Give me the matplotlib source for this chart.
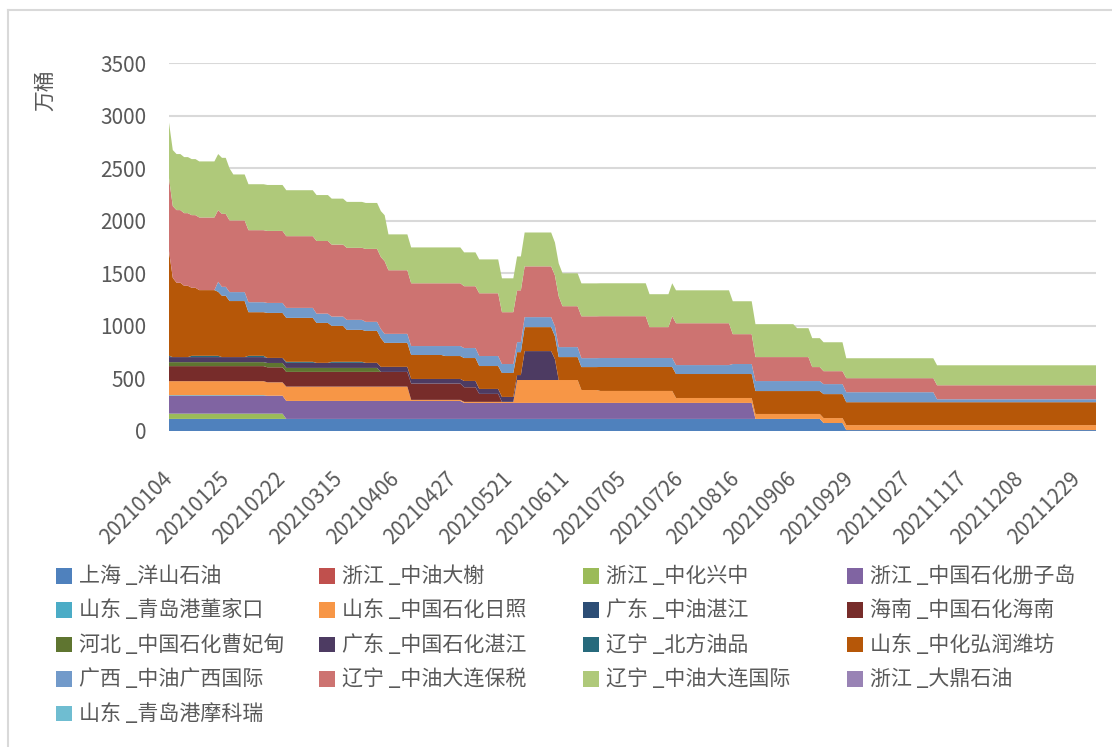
import matplotlib
matplotlib.use("Agg")
import matplotlib.pyplot as plt
import numpy as np
from matplotlib.lines import Line2D
from matplotlib.patches import Rectangle

plt.rcParams["font.family"] = ["Noto Sans CJK SC", "DejaVu Sans"]

N_DAYS = 246  # trading days on the category axis

date_labels = ["20210104", "20210125", "20210222", "20210315", "20210406", "20210427",
               "20210521", "20210611", "20210705", "20210726", "20210816", "20210906",
               "20210929", "20211027", "20211117", "20211208", "20211229"]

names = ["上海 _洋山石油", "浙江 _中油大榭", "浙江 _中化兴中", "浙江 _中国石化册子岛",
         "山东 _青岛港董家口", "山东 _中国石化日照", "广东 _中油湛江", "海南 _中国石化海南",
         "河北 _中国石化曹妃甸", "广东 _中国石化湛江", "辽宁 _北方油品", "山东 _中化弘润潍坊",
         "广西 _中油广西国际", "辽宁 _中油大连保税", "辽宁 _中油大连国际", "浙江 _大鼎石油",
         "山东 _青岛港摩科瑞"]

# each series: (first day index, value in 万桶) whenever the value changes
yangshan = [(0, 115), (173, 76), (179, 9)]
daxie = [(0, 0)]
xingzhong = [(0, 50), (31, 0)]
cezidao = [(0, 171), (78, 152), (155, 0)]
dongjiakou = [(0, 5), (26, 0)]
rizhao = [(0, 133), (26, 127), (31, 136), (64, 10), (92, 218), (109, 123), (114, 114), (134, 47)]
zhanjiang_zy = [(0, 0)]
hainan = [(0, 143), (31, 140), (64, 155), (78, 139), (82, 76), (88, 0)]
caofeidian = [(0, 38), (26, 41), (31, 38), (56, 0)]
zhanjiang_sp = [(0, 48), (64, 44), (78, 60), (82, 47), (94, 275), (102, 199), (103, 0)]
beifang = [(0, 12), (1, 0), (6, 12), (14, 0), (21, 12), (26, 0), (31, 10), (39, 0), (43, 10), (52, 0)]
weifang = [(0, 995), (1, 754), (2, 707), (4, 678), (6, 647), (8, 625), (13, 609), (14, 583),
           (16, 533), (21, 415), (26, 428), (31, 418), (39, 380), (43, 342), (47, 304), (56, 273),
           (57, 228), (73, 218), (88, 228), (92, 218), (94, 228), (102, 218), (114, 228),
           (155, 218), (173, 228), (179, 218)]
guangxi = [(0, 0), (13, 95), (14, 85), (21, 95), (39, 88), (47, 95), (52, 86), (64, 85), (73, 95),
           (88, 85), (92, 95), (109, 85), (149, 95), (203, 28)]
baoshui = [(0, 694), (1, 682), (2, 691), (13, 682), (14, 694), (16, 682), (21, 685), (31, 682),
           (39, 691), (43, 685), (52, 694), (56, 685), (57, 691), (58, 605), (64, 597), (78, 588),
           (82, 597), (88, 493), (94, 483), (104, 389), (109, 398), (127, 294), (133, 398),
           (149, 284), (155, 228), (170, 133), (173, 123), (179, 133)]
guoji = [(0, 529), (1, 533), (16, 495), (17, 437), (58, 341), (78, 322), (102, 313), (166, 275),
         (179, 190)]
dading = [(0, 0)]
molike = [(0, 0)]

colors = ["#4F81BD", "#C0504D", "#9BBB59", "#8064A2", "#4BACC6", "#F79646", "#2C4D75",
          "#772C2A", "#5F7530", "#4D3B62", "#276A7C", "#B65708", "#729ACA", "#CD7371",
          "#AFC97A", "#9983B5", "#6FBDD1"]

TEXT = "#595959"


def expand(changes):
    out = np.zeros(N_DAYS)
    ends = [c[0] for c in changes[1:]] + [N_DAYS]
    for (start, val), end in zip(changes, ends):
        out[start:end] = val
    return out


series = [yangshan, daxie, xingzhong, cezidao, dongjiakou, rizhao, zhanjiang_zy, hainan,
          caofeidian, zhanjiang_sp, beifang, weifang, guangxi, baoshui, guoji, dading, molike]
values = [expand(s) for s in series]
x = np.arange(N_DAYS)

W, H = 1112, 747
fig = plt.figure(figsize=(W / 100, H / 100), dpi=100)
ax = fig.add_axes([169 / W, 1 - 431 / H, 927 / W, 368 / H])

ax.stackplot(x, *values, colors=colors, linewidth=0)

ax.set_xlim(0, N_DAYS - 1)
ax.set_ylim(0, 3500)
ax.set_yticks(range(0, 3501, 500))
ax.yaxis.grid(True, color="#D9D9D9", lw=1.5)
ax.set_axisbelow(True)
for s in ax.spines.values():
    s.set_visible(False)

ax.set_xticks(range(0, 241, 15))
ax.set_xticklabels(date_labels, rotation=45, ha="right", va="center", rotation_mode="anchor")
ax.tick_params(axis="x", length=0, pad=32, labelsize=15, labelcolor=TEXT)
ax.tick_params(axis="y", length=0, pad=16.5, labelsize=15, labelcolor=TEXT)

fig.text(45 / W, 1 - 90 / H, "万桶", rotation=90, ha="center", va="center",
         fontsize=15, color=TEXT)

# legend laid out like the Excel one: 4 fixed columns, filled row by row
col_x = [56, 319, 583, 847]
for k, (name, c) in enumerate(zip(names, colors)):
    row, col = divmod(k, 4)
    yc = 576 + row * 34.4
    fig.add_artist(Rectangle((col_x[col] / W, 1 - (yc + 7.5) / H), 15.5 / W, 15.5 / H,
                             transform=fig.transFigure, facecolor=c, edgecolor="none"))
    fig.text((col_x[col] + 23) / W, 1 - yc / H, name, ha="left", va="center",
             fontsize=15.1, color=TEXT)

# chart-area border (left and top edges are inside the picture)
fig.add_artist(Line2D([8 / W, 8 / W], [0, 1 - 10 / H], transform=fig.transFigure,
                      color="#D9D9D9", lw=1.5))
fig.add_artist(Line2D([8 / W, 1], [1 - 10 / H, 1 - 10 / H], transform=fig.transFigure,
                      color="#D9D9D9", lw=1.5))

fig.savefig("out.png", dpi=100, facecolor="white")
